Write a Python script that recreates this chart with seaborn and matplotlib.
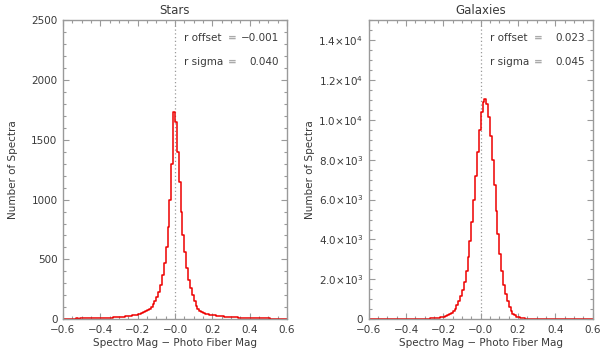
import numpy as np
import pandas as pd
import matplotlib
matplotlib.use('Agg')
import matplotlib.pyplot as plt
import seaborn as sns
from matplotlib.ticker import FixedLocator, MultipleLocator, FuncFormatter

# ------------------------------------------------------------
# Data (counts per 0.01 mag bin, from -0.6 to 0.6)
# ------------------------------------------------------------
BIN_EDGES = np.round(np.linspace(-0.6, 0.6, 121), 3)
BIN_CENTERS = np.round((BIN_EDGES[:-1] + BIN_EDGES[1:]) / 2, 4)

STAR_COUNTS = [
    4, 5, 4, 6, 5, 5, 6, 7, 6, 7,
    7, 8, 7, 9, 8, 9, 10, 9, 11, 10,
    11, 12, 11, 13, 14, 13, 15, 16, 17, 18,
    19, 20, 22, 24, 25, 28, 30, 33, 36, 40,
    44, 48, 53, 60, 68, 78, 90, 105, 125, 150,
    185, 230, 290, 370, 470, 600, 770, 1000, 1300, 1730,
    1650, 1400, 1150, 900, 700, 560, 430, 330, 260, 200,
    150, 110, 88, 72, 62, 54, 48, 43, 40, 37,
    34, 32, 30, 28, 26, 25, 23, 22, 21, 20,
    19, 18, 17, 16, 15, 15, 14, 13, 12, 12,
    11, 11, 10, 10, 9, 9, 8, 8, 8, 7,
    7, 6, 6, 6, 5, 5, 5, 4, 4, 4,
]

GALAXY_COUNTS = [
    3, 3, 3, 3, 4, 4, 4, 4, 5, 5,
    5, 6, 6, 6, 7, 7, 8, 8, 9, 9,
    10, 11, 12, 13, 15, 16, 18, 20, 22, 25,
    28, 32, 37, 42, 48, 56, 66, 78, 92, 110,
    135, 165, 205, 260, 330, 420, 540, 700, 900, 1150,
    1450, 1850, 2400, 3100, 3900, 4900, 6000, 7200, 8400, 9500,
    10400, 10900, 11050, 10800, 10150, 9200, 8000, 6750, 5450, 4300,
    3250, 2400, 1700, 1250, 900, 620, 420, 290, 200, 140,
    100, 75, 58, 45, 36, 30, 25, 21, 18, 15,
    13, 11, 10, 9, 8, 7, 6, 6, 5, 5,
    5, 4, 4, 4, 3, 3, 3, 3, 3, 3,
    2, 2, 2, 2, 2, 2, 2, 2, 2, 2,
]

PANEL_TITLES = ['Stars', 'Galaxies']
OFFSET_LABELS = ['-0.001', '0.023']
SIGMA_LABELS = ['0.040', '0.045']
X_TICKS = [-0.6, -0.4, -0.2, 0.0, 0.2, 0.4, 0.6]
X_TICK_LABELS = ['\u22120.6', '\u22120.4', '\u22120.2', '\u22120.0', '0.2', '0.4', '0.6']
STAR_Y_TICKS = [0, 500, 1000, 1500, 2000, 2500]
GALAXY_Y_TICKS = [0, 2000, 4000, 6000, 8000, 10000, 12000, 14000]

AXIS_GREY = '#9a9a9a'
TEXT_GREY = '#3a3a3a'

sns.set_theme(style='white')
plt.rcParams['font.family'] = ['DejaVu Sans']
plt.rcParams['font.size'] = 7.5


def sci_label(v, pos=None):
    if v == 0:
        return '0'
    e = int(np.floor(np.log10(v)))
    m = v / 10 ** e
    return r'%.1f$\times$10$^{%d}$' % (m, e)


def style_axis(ax):
    for sp in ax.spines.values():
        sp.set_color(AXIS_GREY)
        sp.set_linewidth(1.0)
    ax.tick_params(which='both', direction='in', bottom=True, left=True, top=True, right=True,
                   color=AXIS_GREY, labelcolor=TEXT_GREY, labelsize=7.5, width=0.8)
    ax.tick_params(which='major', length=4, pad=4)
    ax.tick_params(which='minor', length=2)
    ax.xaxis.set_major_locator(FixedLocator(X_TICKS))
    ax.set_xticklabels(X_TICK_LABELS)
    ax.xaxis.set_minor_locator(MultipleLocator(0.05))


def draw_panel(ax, counts, title, offset_lbl, sigma_lbl):
    df = pd.DataFrame({'diff': BIN_CENTERS, 'count': counts})
    sns.histplot(data=df, x='diff', weights='count', bins=list(BIN_EDGES),
                 element='step', fill=False, color='#ee0000', linewidth=1.1, ax=ax)
    ax.axvline(0.0, color=AXIS_GREY, linestyle=(0, (1, 2)), linewidth=0.9, zorder=0)
    ax.set_xlim(-0.6, 0.6)
    ax.set_title(title, fontsize=8.5, color=TEXT_GREY, pad=4)
    ax.set_xlabel('Spectro Mag \u2212 Photo Fiber Mag', color=TEXT_GREY, fontsize=7.5, labelpad=2)
    ax.set_ylabel('Number of Spectra', color=TEXT_GREY, fontsize=7.5)
    style_axis(ax)
    for yf, name, val in [(0.94, 'r offset', offset_lbl), (0.86, 'r sigma', sigma_lbl)]:
        ax.text(0.54, yf, name, transform=ax.transAxes, ha='left', va='center',
                color=TEXT_GREY, fontsize=7.5)
        ax.text(0.755, yf, '=', transform=ax.transAxes, ha='center', va='center',
                color='#aaaaaa', fontsize=7.5, fontweight='bold')
        ax.text(0.964, yf, val.replace('-', '\u2212'), transform=ax.transAxes,
                ha='right', va='center', color=TEXT_GREY, fontsize=7.5)


fig = plt.figure(figsize=(6.12, 3.6), dpi=100)
ax1 = fig.add_axes([63 / 612, 1 - 319.3 / 360, 224 / 612, 299.3 / 360])
ax2 = fig.add_axes([368.7 / 612, 1 - 319.3 / 360, 224 / 612, 299.3 / 360])

draw_panel(ax1, STAR_COUNTS, PANEL_TITLES[0], OFFSET_LABELS[0], SIGMA_LABELS[0])
ax1.set_ylim(0, 2500)
ax1.yaxis.set_major_locator(FixedLocator(STAR_Y_TICKS))
ax1.yaxis.set_minor_locator(MultipleLocator(100))
ax1.yaxis.set_label_coords(-0.2, 0.5)

draw_panel(ax2, GALAXY_COUNTS, PANEL_TITLES[1], OFFSET_LABELS[1], SIGMA_LABELS[1])
ax2.set_ylim(0, 15000)
ax2.yaxis.set_major_locator(FixedLocator(GALAXY_Y_TICKS))
ax2.yaxis.set_minor_locator(MultipleLocator(500))
ax2.yaxis.set_major_formatter(FuncFormatter(sci_label))
ax2.yaxis.set_label_coords(-0.24, 0.5)

fig.savefig('out.png', dpi=100)
